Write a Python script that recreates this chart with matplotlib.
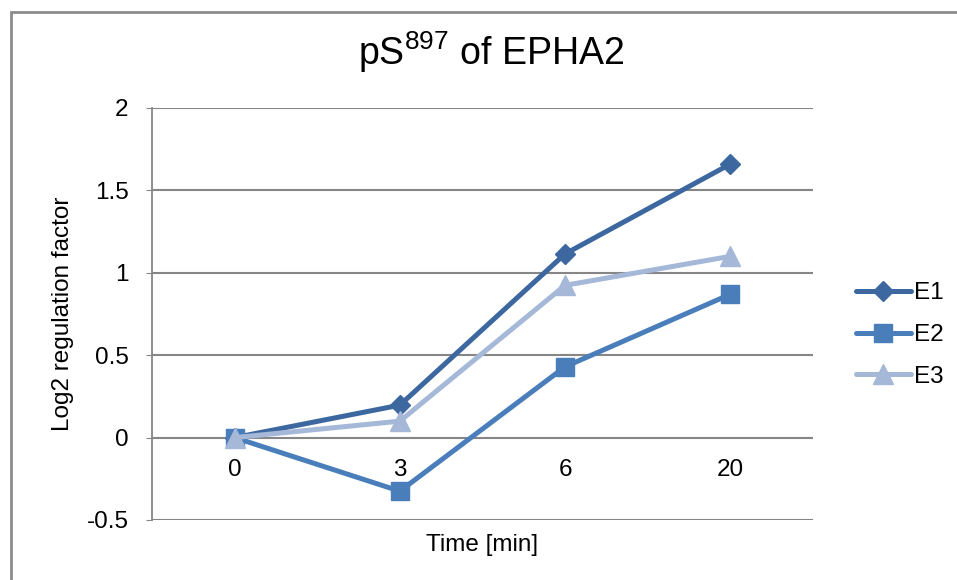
import matplotlib
matplotlib.use('Agg')
import matplotlib.pyplot as plt
from matplotlib.patches import Rectangle

plt.rcParams['font.family'] = ['Liberation Sans', 'DejaVu Sans']
plt.rcParams['mathtext.fontset'] = 'custom'
plt.rcParams['mathtext.rm'] = 'Liberation Sans'

# time points (categories) and log2 regulation factors per experiment
time_labels = ['0', '3', '6', '20']
e1 = [0.0, 0.197, 1.115, 1.66]
e2 = [0.0, -0.325, 0.43, 0.87]
e3 = [0.0, 0.10, 0.924, 1.10]
series_names = ['E1', 'E2', 'E3']

colors = ['#3C679F', '#4A7EBB', '#A5B8D8']
markers = ['D', 's', '^']
msizes = [10, 13, 14]
fs = 17.5

fig = plt.figure(figsize=(9.57, 5.8), dpi=100)
ax = fig.add_axes([152 / 957, 1 - 520 / 580, (813 - 152) / 957, (520 - 108) / 580])

# outer chart border
fig.patches.append(Rectangle((10.5 / 957, -0.1), 1.2, 1 - 11.5 / 580 + 0.1,
                             transform=fig.transFigure, fill=False,
                             edgecolor='#8C8C8C', linewidth=2))

x = range(len(time_labels))
for vals, name, c, m, ms in zip([e1, e2, e3], series_names, colors, markers, msizes):
    ax.plot(x, vals, color=c, marker=m, markersize=ms, linewidth=3.6,
            label=name, solid_capstyle='round', zorder=3)

ax.set_xlim(-0.5, 3.5)
ax.set_ylim(-0.5, 2)
ax.set_yticks([-0.5, 0, 0.5, 1, 1.5, 2])
ax.set_yticklabels(['-0.5', '0', '0.5', '1', '1.5', '2'])
ax.grid(axis='y', color='#868686', linewidth=1.5)
ax.set_axisbelow(True)

for s in ['top', 'right', 'bottom']:
    ax.spines[s].set_visible(False)
ax.spines['left'].set_color('#868686')
ax.spines['left'].set_linewidth(1.3)
ax.tick_params(axis='y', length=4, color='#868686', labelsize=fs, pad=13)

# category labels sit just under the zero line
ax.set_xticks([])
for i, lab in enumerate(time_labels):
    ax.text(i, -0.195, lab, ha='center', va='center', fontsize=fs)

ax.set_ylabel('Log2 regulation factor', fontsize=fs, labelpad=9)
ax.set_xlabel('Time [min]', fontsize=fs, labelpad=10)
fig.text(491 / 957, 1 - 52 / 580, r'pS$^{\mathrm{897}}$ of EPHA2', ha='center', va='center', fontsize=27)

fig.legend(loc='center left', bbox_to_anchor=(834 / 957, 1 - 335 / 580), frameon=False,
           fontsize=fs, handlelength=2.25, handletextpad=0.15, labelspacing=0.82)

fig.savefig('out.png', dpi=100)
